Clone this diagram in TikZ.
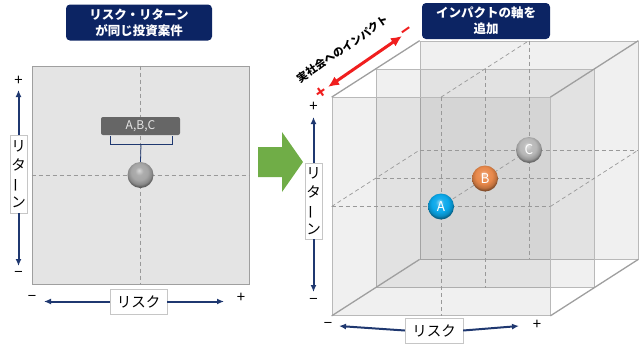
\documentclass[tikz,border=0pt]{standalone}
\usepackage{fontspec}
\setmainfont{Noto Sans CJK JP}
\usetikzlibrary{positioning,arrows.meta,calc}
\definecolor{cnavy}{HTML}{0C2463}
\definecolor{caxis}{HTML}{1F3870}
\definecolor{cgreen}{HTML}{70AD47}
\definecolor{cred}{HTML}{F01E1E}
\definecolor{cballA}{HTML}{0AA8EA}
\definecolor{cballB}{HTML}{E8884A}
\definecolor{cballC}{HTML}{B8B8B8}
\makeatletter
\pgfdeclareradialshading[tikz@ball]{sph}{\pgfpoint{-3bp}{9bp}}{color(0bp)=(tikz@ball!45!white); color(8bp)=(tikz@ball!92!white); color(16bp)=(tikz@ball); color(23bp)=(tikz@ball!82!black); color(27bp)=(tikz@ball!55!black); color(50bp)=(tikz@ball!55!black)}
\makeatother
\tikzset{
  headbox/.style={fill=cnavy, rounded corners=4pt, text=white, align=center, font=\bfseries\fontsize{12.5}{16}\selectfont, minimum height=36pt, inner sep=0pt},
  axlab/.style={draw=gray!45, fill=white, inner sep=0pt, align=center, font=\fontsize{14.5}{18.5}\selectfont},
  pm/.style={inner sep=1pt, font=\fontsize{15}{15}\selectfont},
  ax/.style={-{Latex[length=7pt,width=6pt]}, line width=2pt, draw=caxis},
  gridline/.style={draw=gray!80, line width=0.7pt, dash pattern=on 4pt off 3pt},
  plane/.style={fill=black, fill opacity=0.06, draw=gray!55, line width=0.7pt, minimum width=218pt, minimum height=218pt, inner sep=0pt},
  edge/.style={draw=gray!75, line width=1.3pt},
  sphere/.style={circle, minimum size=26pt, inner sep=0pt, ball color=#1, shading=sph, text=white, font=\fontsize{13.5}{13.5}\selectfont},
  redpm/.style={inner sep=1pt, text=cred, rotate=35, font=\bfseries\fontsize{17}{17}\selectfont},
}
\begin{document}
\begin{tikzpicture}[x=1pt, y=-1pt]
  \useasboundingbox (0,0) rectangle (640,349);
  % before
  \node[headbox, minimum width=146pt] (tL) at (139,22.5) {リスク・リターン\\が同じ投資案件};
  \node[fill=gray!21, draw=gray!75, line width=0.9pt, minimum width=217pt, minimum height=218pt, inner sep=0pt] (pL) at (140.5,175) {};
  \draw[gridline] (pL.north) -- (pL.south); \draw[gridline] (pL.west) -- (pL.east);
  \node[sphere=gray!70] (bL) at (pL.center) {};
  \node[fill=black!60, rounded corners=2pt, text=gray!20, minimum width=79pt, minimum height=18pt, inner sep=0pt, font=\fontsize{12}{12}\selectfont] (abc) at (140.5,126) {A,B,C};
  \draw[caxis, line width=0.8pt] (110,136) |- (172,144) -- (172,136);
  \draw[caxis, line width=0.8pt] (141,144) -- (bL.north);
  \node[axlab, minimum width=17pt, minimum height=78pt] (retL) at (18.5,174) {リ\\タ\\\rotatebox[origin=c]{90}{ー}\\ン};
  \node[pm] (retLp) at (18.5,81) {+}; \node[pm] (retLm) at (18.5,274) {−};
  \draw[ax] (retL.north) -- (18.5,90); \draw[ax] (retL.south) -- (18.5,266);
  \node[axlab, minimum width=57pt, minimum height=25pt] (riskL) at (138.5,301.5) {リスク};
  \node[pm] (riskLm) at (32,298) {−}; \node[pm] (riskLp) at (241,298) {+};
  \draw[ax] (riskL.west) -- (44,301.5); \draw[ax] (riskL.east) -- (224,301.5);
  % arrow
  \fill[cgreen] (258,147) -- (282,147) -- (282,132) -- (303,162) -- (282,192) -- (282,177) -- (258,177) -- cycle;
  % after
  \node[headbox, minimum width=128pt] (tR) at (486,21) {インパクトの軸を\\追加};
  \node[plane] (back) at (529,150) {};
  \node[plane] (mid) at (485,178.5) {};
  \node[plane] (front) at (441,206.5) {};
  \foreach \p in {back,mid,front}{
    \draw[gridline] (\p.north) -- (\p.south); \draw[gridline] (\p.west) -- (\p.east);
  }
  \draw[gridline] (front.west) -- (back.west); \draw[gridline] (front.east) -- (back.east);
  \draw[gridline] (front.north) -- (back.north); \draw[gridline] (front.center) -- (back.center);
  \draw[edge] (front.north west) -- (back.north west); \draw[edge] (front.north east) -- (back.north east);
  \draw[edge] (front.south east) -- (back.south east); \draw[edge] (front.south west) -- (back.south west);
  \node[sphere=cballC] (bC) at (back.center) {C};
  \node[sphere=cballB] (bB) at (mid.center) {B};
  \node[sphere=cballA] (bA) at (front.center) {A};
  \node[redpm] (impP) at (322,93) {+};
  \node[redpm] (impM) at (408,32) {−};
  \draw[{Latex[length=11pt,width=10pt]}-{Latex[length=11pt,width=10pt]}, cred, line width=3pt] (328,87) -- (402,36);
  \node[rotate=34.6, font=\bfseries\fontsize{10.8}{10.8}\selectfont] (impT) at (343,49) {実社会へのインパクト};
  \node[axlab, minimum width=17pt, minimum height=76pt] (retR) at (313.5,201) {リ\\タ\\\rotatebox[origin=c]{90}{ー}\\ン};
  \node[pm] (retRp) at (313.5,107) {+}; \node[pm] (retRm) at (313.5,301) {−};
  \draw[ax] (retR.north) -- (313.5,117); \draw[ax] (retR.south) -- (313.5,292);
  \node[axlab, minimum width=58pt, minimum height=25pt] (riskR) at (434,330.5) {リスク};
  \node[pm] (riskRm) at (328,325) {−}; \node[pm] (riskRp) at (537,325) {+};
  \draw[ax] (riskR.west) -- (339,326); \draw[ax] (riskR.east) -- (519,326);
\end{tikzpicture}
\end{document}
